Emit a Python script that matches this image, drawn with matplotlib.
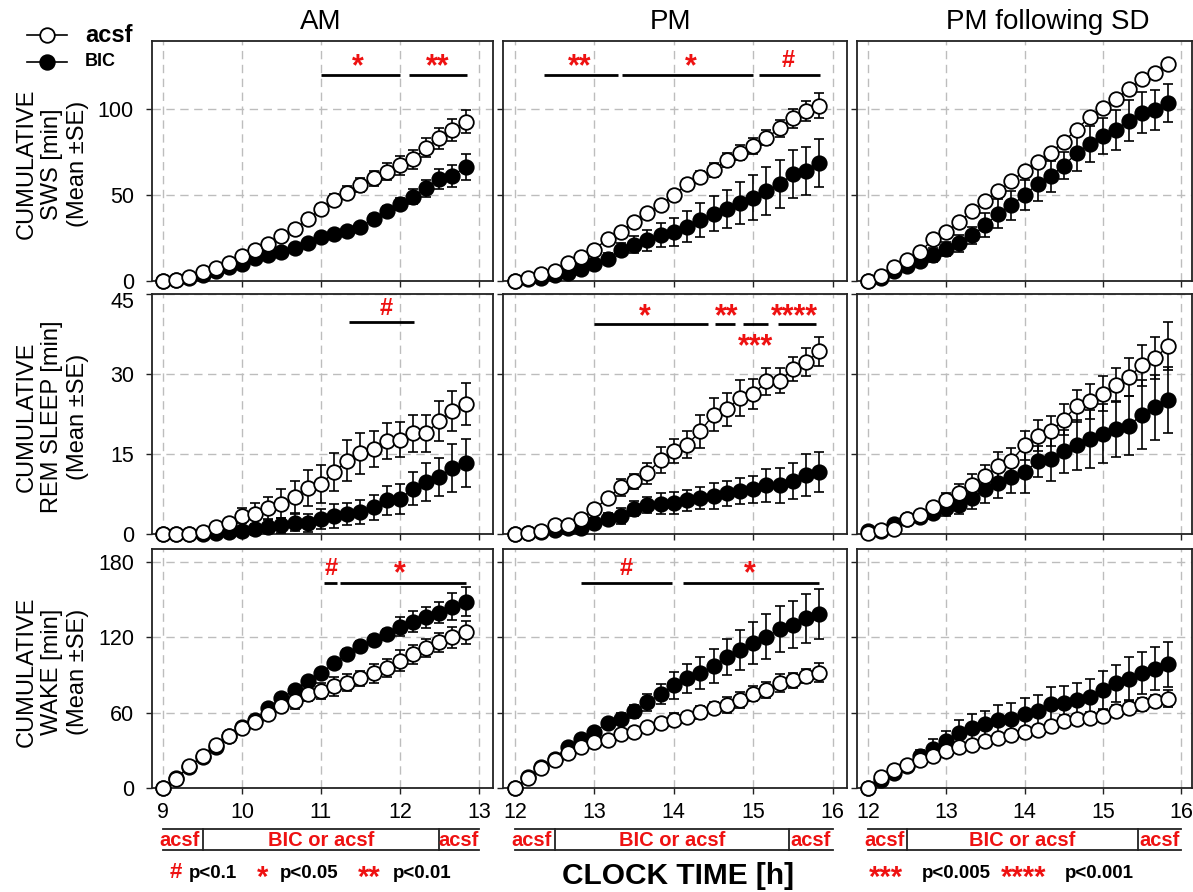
import matplotlib
matplotlib.use('Agg')
import matplotlib.pyplot as plt
import matplotlib.transforms as mtransforms
from matplotlib.lines import Line2D

plt.rcParams['font.family'] = ['Liberation Sans', 'DejaVu Sans']

# ---------------- data ----------------
bin_minutes = [0, 10, 20, 30, 40, 50, 60, 70, 80, 90, 100, 110,
               120, 130, 140, 150, 160, 170, 180, 190, 200, 210, 220, 230]
start_hours = [9, 12, 12]          # AM, PM, PM following SD
col_titles = ["AM", "PM", "PM following SD"]
row_labels = ["CUMULATIVE\nSWS [min]\n(Mean \u00b1SE)",
              "CUMULATIVE\nREM SLEEP [min]\n(Mean \u00b1SE)",
              "CUMULATIVE\nWAKE [min]\n(Mean \u00b1SE)"]

# SWS
sws_am_acsf = [0, 0.8, 2.3, 5.2, 7.6, 10.7, 14.4, 18.3, 21.6, 26, 30, 36, 41.7, 47, 51.3, 56, 59.6, 63.5, 67.4, 70.7, 77.5, 83, 87.8, 92.6]
sws_am_acsf_se = [0, 0.3, 0.5, 0.8, 1, 1.2, 1.5, 2, 2.3, 2.6, 3, 3, 3.2, 3.5, 3.8, 4, 4.5, 5, 5.5, 5.5, 5.5, 6, 6.5, 6.6]
sws_am_bic = [0, 0.5, 1.5, 3.5, 6, 8.2, 10, 13.4, 15.3, 17, 19.4, 22.3, 25.6, 27.6, 29, 31.5, 36, 40.6, 44.5, 49, 53.8, 59.2, 61.2, 66.4]
sws_am_bic_se = [0, 0.3, 0.5, 0.8, 1, 1.2, 1.5, 1.8, 2, 2, 2, 2, 2, 2, 2, 2.5, 3, 3, 3.5, 4.5, 5, 5.8, 6.5, 7.5]
sws_pm_acsf = [0, 2, 4, 6, 10.7, 14, 18.3, 24.5, 28.7, 34.4, 39.6, 44, 50, 56.3, 60.6, 64.5, 70.3, 74.6, 78.4, 83.3, 88.7, 94.6, 98.8, 102]
sws_pm_acsf_se = [0, 0.5, 0.8, 1, 1.5, 1.5, 2, 2, 2, 2.2, 2.5, 2.5, 2.5, 3, 3.5, 3.8, 4, 4.2, 4.5, 4.5, 5, 5.5, 6, 7.3]
sws_pm_bic = [0, 1, 2, 3.5, 4.7, 7, 10, 13, 18.3, 21, 23.7, 26.6, 28.5, 31.5, 35.3, 39.2, 41.7, 45.4, 48.5, 52.4, 56.3, 62, 64, 68.7]
sws_pm_bic_se = [0, 0.5, 0.8, 1, 1.5, 2, 2.5, 3, 4, 5, 6, 7, 8, 9, 10, 10, 11, 12, 13, 14, 14, 14, 14, 14]
sws_sd_acsf = [0, 3, 8, 12.4, 17, 24.3, 28.5, 34.4, 40.6, 46.4, 52.4, 58, 64, 69, 74.6, 81, 88, 95.5, 100.4, 106, 111.5, 117.3, 121, 126]
sws_sd_acsf_se = [0, 0.5, 0.8, 1, 1, 1, 1, 1, 1, 1, 1, 1, 1, 1, 1, 1, 1, 1, 1, 1, 1, 1, 1, 1]
sws_sd_bic = [0, 2, 5.8, 8.5, 11.5, 15.3, 18.8, 22, 26.6, 32.4, 39.2, 44, 50, 56.3, 61, 67, 74.2, 79.6, 84.3, 87.8, 93.2, 97.9, 99.4, 103.7]
sws_sd_bic_se = [0, 0.5, 1, 1.5, 2, 4, 4, 5, 5, 7, 8.5, 8.5, 8.5, 10, 9, 8, 10.5, 10.5, 10.7, 11.5, 12, 12, 11.5, 11]

# REM
rem_am_acsf = [0, 0, 0, 0.4, 1.4, 2.1, 3.4, 3.75, 4.9, 5.7, 6.9, 8.6, 9.4, 11.6, 13.75, 15.1, 16, 17.4, 17.7, 18.9, 18.9, 21.2, 23.1, 24.4]
rem_am_acsf_se = [0, 0, 0, 0.3, 0.6, 0.8, 1.4, 2, 2, 2.7, 3, 3.4, 3.5, 3.5, 3.8, 3.8, 3.4, 3.4, 3.3, 3.5, 3.5, 3.7, 3.8, 4]
rem_am_bic = [0, 0, 0, 0, 0.2, 0.3, 0.5, 0.9, 1.4, 1.6, 2.1, 2.1, 2.8, 3.4, 3.75, 4.1, 5.0, 6.3, 6.6, 8.5, 9.7, 10.7, 12.4, 13.3]
rem_am_bic_se = [0, 0, 0, 0.1, 0.3, 0.5, 0.7, 1, 1.2, 1.4, 1.6, 1.7, 1.9, 2.2, 2, 2.2, 2.4, 2.7, 2.8, 3.1, 3.6, 3.5, 4.5, 4.5]
rem_pm_acsf = [0, 0.2, 0.5, 1.6, 1.6, 2.9, 4.6, 6.75, 8.8, 9.9, 11.4, 13.9, 15.5, 16.75, 19.25, 22.4, 23.4, 25.5, 26.25, 28.6, 28.75, 30.9, 32.25, 34.25]
rem_pm_acsf_se = [0, 0.1, 0.2, 0.4, 0.5, 0.7, 0.8, 1, 1.6, 1.4, 2, 2.4, 2.25, 2.5, 3.1, 3.1, 3.1, 3.3, 2.8, 2.5, 2.4, 2.25, 2.7, 2.75]
rem_pm_bic = [0, 0.1, 0.3, 0.8, 1.1, 1.1, 2.1, 2.9, 3.3, 4.7, 5.5, 5.7, 5.8, 6.3, 6.75, 7.1, 7.6, 8.1, 8.4, 9.1, 9.1, 10, 11.1, 11.6]
rem_pm_bic_se = [0, 0.1, 0.2, 0.4, 0.5, 0.7, 0.9, 1.1, 1.5, 1.4, 1.5, 2, 2, 2, 2, 2.4, 2.4, 2.4, 2.5, 3.1, 3.3, 3.4, 3.9, 3.8]
rem_sd_acsf = [0.2, 0.7, 1, 2.8, 3.6, 5, 6.4, 7.7, 9.1, 10.8, 12.8, 13.75, 16.6, 18.4, 19.25, 21.4, 24, 24.9, 26.3, 28, 29.4, 31.6, 33, 35.2]
rem_sd_acsf_se = [0.1, 0.3, 0.4, 0.6, 0.8, 1, 1.25, 1.6, 2.1, 2.2, 2.5, 2.4, 2.7, 2.9, 2.8, 2.9, 3, 3.3, 3.3, 3.2, 3.6, 3.9, 4, 4.5]
rem_sd_bic = [0.6, 0.6, 1.9, 2.8, 3.2, 3.9, 4.9, 5.5, 6.75, 8.4, 9.6, 10.6, 11.6, 13.6, 14.1, 15.5, 16.75, 17.8, 18.8, 19.7, 20.3, 22.4, 23.75, 25.1]
rem_sd_bic_se = [0.2, 0.3, 0.5, 0.7, 0.8, 1, 1.5, 1.8, 2, 2.6, 2.8, 3, 3.9, 2.9, 4.2, 4, 4.7, 5.4, 5.5, 5.3, 5.5, 6.4, 6.1, 6.25]

# WAKE
wake_am_acsf = [0, 7.2, 17.2, 25.7, 34.5, 41.6, 47.7, 53, 59, 65, 69, 75, 77.5, 81, 84, 87.5, 91.5, 95.5, 101.3, 106.6, 111.4, 116, 120, 124]
wake_am_acsf_se = [0, 1, 1.5, 2, 2, 2.5, 2.5, 3, 3, 3.5, 5.7, 6, 6.4, 7.7, 7, 6, 7.6, 7.3, 8.4, 7.4, 7, 7.3, 8.6, 9]
wake_am_bic = [0, 7.7, 17, 25, 33, 41.6, 49, 54.4, 63.7, 71.6, 78.2, 85, 91.5, 99.5, 107, 113.3, 118, 122.5, 128.6, 132.6, 136, 139.8, 144.6, 148.5]
wake_am_bic_se = [0, 1, 1.5, 2, 2, 2.5, 2.5, 3, 3, 3, 3, 3, 3.5, 3.5, 4, 4, 4, 4.4, 7.4, 8.4, 8.2, 8.4, 10.6, 11.4]
wake_pm_acsf = [0, 8, 16, 22.5, 27.8, 32.6, 36.6, 38.5, 43, 45, 49, 51.7, 54.4, 56.5, 60.2, 63.7, 66.3, 69.8, 75, 78.2, 83.6, 85.7, 88.9, 92]
wake_pm_acsf_se = [0, 1.5, 2, 2.5, 3, 3, 3, 3, 3, 3, 3.6, 2.5, 5.3, 4.4, 5.3, 5, 6.2, 6.4, 6, 6.4, 7, 6, 5.6, 7.7]
wake_pm_bic = [0, 8.5, 16.4, 23.3, 33, 39, 45, 51.7, 55.2, 61, 68.2, 74.8, 81.7, 87.5, 91.5, 97.3, 104.2, 110, 115.4, 120.7, 126.5, 130, 135.3, 138.7]
wake_pm_bic_se = [0, 1.5, 2, 2.5, 3, 3, 3, 3.5, 4.4, 5.3, 7, 8.2, 10.6, 11.7, 12.6, 13.3, 14.3, 16, 16.8, 18, 18.4, 18.8, 19.6, 19.7]
wake_sd_acsf = [0, 8.8, 14.7, 18.7, 22.7, 25.9, 29.3, 32.8, 34.1, 37.3, 39.5, 41.9, 44.5, 46.1, 49.3, 53.3, 54.7, 56, 57.3, 61.3, 64, 66.7, 69.3, 71.2]
wake_sd_acsf_se = [0, 1, 1.5, 2, 2, 2.5, 2.5, 3, 3, 3.5, 3.5, 4, 4, 4, 4.5, 4.5, 4.5, 4.5, 4.5, 5, 5, 5, 5, 6.7]
wake_sd_bic = [0, 6.7, 12, 17.9, 25.3, 30.7, 37.3, 44, 48, 50.7, 53.9, 55.2, 58.7, 61.3, 66.7, 68, 70.1, 72.8, 78.1, 83.5, 87.2, 91.5, 95.2, 98.7]
wake_sd_bic_se = [0, 1.5, 2, 2.5, 5, 8, 8, 10, 10.8, 11, 12.4, 12.8, 13, 12.7, 13.7, 13, 13.6, 13.9, 15.3, 14.7, 16.9, 16.7, 17.2, 17.9]

series = [
    [(sws_am_acsf, sws_am_acsf_se, sws_am_bic, sws_am_bic_se),
     (sws_pm_acsf, sws_pm_acsf_se, sws_pm_bic, sws_pm_bic_se),
     (sws_sd_acsf, sws_sd_acsf_se, sws_sd_bic, sws_sd_bic_se)],
    [(rem_am_acsf, rem_am_acsf_se, rem_am_bic, rem_am_bic_se),
     (rem_pm_acsf, rem_pm_acsf_se, rem_pm_bic, rem_pm_bic_se),
     (rem_sd_acsf, rem_sd_acsf_se, rem_sd_bic, rem_sd_bic_se)],
    [(wake_am_acsf, wake_am_acsf_se, wake_am_bic, wake_am_bic_se),
     (wake_pm_acsf, wake_pm_acsf_se, wake_pm_bic, wake_pm_bic_se),
     (wake_sd_acsf, wake_sd_acsf_se, wake_sd_bic, wake_sd_bic_se)],
]

y_ticks = [[0, 50, 100], [0, 15, 30, 45], [0, 60, 120, 180]]
y_lims = [(0, 139.5), (0, 45), (0, 190.5)]
x_ticks = [[9, 10, 11, 12, 13], [12, 13, 14, 15, 16], [12, 13, 14, 15, 16]]
x_lims = [(8.86, 13.18), (11.85, 16.18), (11.86, 16.14)]

# significance bars: (row, col, x_start, x_end, y_bar)
sig_bars = [
    (0, 0, 11.0, 12.0, 120), (0, 0, 12.12, 12.85, 120),
    (0, 1, 12.36, 13.30, 120), (0, 1, 13.35, 15.0, 120), (0, 1, 15.07, 15.84, 120),
    (1, 0, 11.35, 12.18, 39.7),
    (1, 1, 12.99, 14.43, 39.4), (1, 1, 14.52, 14.77, 39.4), (1, 1, 14.87, 15.19, 39.4), (1, 1, 15.31, 15.79, 39.4),
    (2, 0, 11.04, 11.21, 163.7), (2, 0, 11.24, 12.84, 163.7),
    (2, 1, 12.83, 13.98, 163.7), (2, 1, 14.12, 15.83, 163.7),
]
# significance labels: (row, col, x, y, text)
sig_labels = [
    (0, 0, 11.47, 128, "*"), (0, 0, 12.48, 128, "**"),
    (0, 1, 12.82, 128, "**"), (0, 1, 14.22, 128, "*"), (0, 1, 15.44, 128, "#"),
    (1, 0, 11.83, 42.2, "#"),
    (1, 1, 13.64, 41.7, "*"), (1, 1, 14.66, 41.7, "**"), (1, 1, 15.03, 36.1, "***"), (1, 1, 15.52, 41.7, "****"),
    (2, 0, 11.13, 175, "#"), (2, 0, 12.0, 175, "*"),
    (2, 1, 13.4, 175, "#"), (2, 1, 14.96, 175, "*"),
]
# treatment periods under each column: (start, switch1, switch2, end)
treat_periods = [(9, 9.5, 12.5, 13), (12, 12.5, 15.45, 16), (12, 12.5, 15.45, 16)]
treat_texts = ["acsf", "BIC or acsf", "acsf"]

# ---------------- layout ----------------
W, H = 1193, 892
fig = plt.figure(figsize=(W / 100, H / 100), dpi=100)


def fx(px):
    return px / W


def fy(py):
    return 1 - py / H


col_lr = [(152, 493), (503, 847), (857, 1192)]
row_tb = [(41, 281), (294, 534), (549, 788)]
RED = '#ee1111'
TICKFS = 15.5

axes = [[None] * 3 for _ in range(3)]
for r in range(3):
    for c in range(3):
        l, rr = col_lr[c]
        t, b = row_tb[r]
        ax = fig.add_axes([fx(l), fy(b), (rr - l) / W, (b - t) / H])
        axes[r][c] = ax
        x = [start_hours[c] + m / 60 for m in bin_minutes]
        acsf, acsf_se, bic, bic_se = series[r][c]
        ax.errorbar(x, bic, yerr=bic_se, fmt='none', ecolor='black', elinewidth=1.2,
                    capsize=3.5, capthick=1.2, zorder=3, clip_on=False)
        ax.plot(x, bic, '-o', color='black', lw=1, ms=10.5, mfc='black', mec='black',
                mew=1.2, zorder=4, clip_on=False)
        ax.errorbar(x, acsf, yerr=acsf_se, fmt='none', ecolor='black', elinewidth=1.2,
                    capsize=3.5, capthick=1.2, zorder=5, clip_on=False)
        ax.plot(x, acsf, '-o', color='black', lw=1, ms=10.5, mfc='white', mec='black',
                mew=1.3, zorder=6, clip_on=False)
        ax.set_xlim(*x_lims[c])
        ax.set_ylim(*y_lims[r])
        ax.set_xticks(x_ticks[c])
        ylabels = [str(v) for v in y_ticks[r]]
        if r == 1:
            ylabels[-1] = ''     # top label drawn lower, as in the original
        ax.set_yticks(y_ticks[r], labels=ylabels)
        ax.grid(True, color='#bdbdbd', lw=1, linestyle=(0, (6, 4)))
        ax.set_axisbelow(True)
        for s in ax.spines.values():
            s.set_linewidth(1.3)
            s.set_color('#222222')
        ax.tick_params(direction='out', length=4, width=1, labelsize=TICKFS, color='#222222')
        ax.tick_params(axis='y', pad=9)
        ax.tick_params(axis='x', pad=6)
        if r < 2:
            ax.tick_params(labelbottom=False)
        if c > 0:
            ax.tick_params(labelleft=False)

# the shifted "45" label of the REM row
fig.text(fx(134), fy(303), str(y_ticks[1][-1]), ha='right', va='center', fontsize=TICKFS)

# row labels
for r in range(3):
    t, b = row_tb[r]
    fig.text(fx(52), fy((t + b) / 2 + 3), row_labels[r], rotation=90, ha='center', va='center',
             fontsize=17, linespacing=1.22)

# column titles
title_x = [321, 670, 1048]
for c in range(3):
    fig.text(fx(title_x[c]), fy(22), col_titles[c], ha='center', va='center', fontsize=20)

# significance bars and labels
star_shift = mtransforms.ScaledTranslation(0, -6 / 100, fig.dpi_scale_trans)
for (r, c, x0, x1, yb) in sig_bars:
    axes[r][c].plot([x0, x1], [yb, yb], color='black', lw=2, zorder=7, solid_capstyle='butt')
for (r, c, xl, yl, txt) in sig_labels:
    is_star = txt.startswith('*')
    a = axes[r][c]
    a.text(xl, yl, txt, color=RED, fontweight='bold', ha='center', va='center',
           fontsize=22 if is_star else 17, zorder=8,
           transform=(a.transData + star_shift) if is_star else a.transData)

# treatment bars
for c in range(3):
    ax = axes[2][c]
    tr = ax.get_xaxis_transform()
    s0, s1, s2, s3 = treat_periods[c]
    y_top, y_bot = (788 - 829) / 239, (788 - 850) / 239
    y_mid = (788 - 840) / 239
    for yy in (y_top, y_bot):
        ax.plot([s0, s3], [yy, yy], color='#222222', lw=1.3, transform=tr, clip_on=False)
    for sx in (s1, s2):
        ax.plot([sx, sx], [y_top, y_bot], color='#222222', lw=1.3, transform=tr, clip_on=False)
    mids = [(s0 + s1) / 2 - 0.04, (s1 + s2) / 2, (s2 + s3) / 2]
    for mx, tx in zip(mids, treat_texts):
        ax.text(mx, y_mid, tx, color=RED, fontweight='bold', fontsize=14.5, ha='center',
                va='center', transform=tr, clip_on=False)

# legend (top-left)
for yy, face, lab, fs in [(35, 'white', 'acsf', 17), (62, 'black', 'BIC', 13)]:
    fig.add_artist(Line2D([fx(27), fx(67)], [fy(yy), fy(yy)], color='black', lw=1.2))
    fig.add_artist(Line2D([fx(47)], [fy(yy)], marker='o', ms=10.5, mfc=face, mec='black',
                          mew=1.3, lw=0))
    fig.text(fx(85), fy(yy), lab, fontsize=fs, fontweight='bold', ha='left', va='center')

# bottom keys
KEYFS = 13.5
fig.text(fx(170), fy(873), "#", color=RED, fontsize=16, fontweight='bold', ha='left', va='center')
fig.text(fx(189), fy(873), "p<0.1", fontsize=KEYFS, fontweight='bold', ha='left', va='center')
fig.text(fx(257), fy(878), "*", color=RED, fontsize=21, fontweight='bold', ha='left', va='center')
fig.text(fx(280), fy(873), "p<0.05", fontsize=KEYFS, fontweight='bold', ha='left', va='center')
fig.text(fx(358), fy(878), "**", color=RED, fontsize=21, fontweight='bold', ha='left', va='center')
fig.text(fx(393), fy(873), "p<0.01", fontsize=KEYFS, fontweight='bold', ha='left', va='center')

fig.text(fx(678), fy(876), "CLOCK TIME [h]", fontsize=21.5, fontweight='bold', ha='center', va='center')

fig.text(fx(869), fy(878), "***", color=RED, fontsize=21, fontweight='bold', ha='left', va='center')
fig.text(fx(922), fy(873), "p<0.005", fontsize=KEYFS, fontweight='bold', ha='left', va='center')
fig.text(fx(1001), fy(878), "****", color=RED, fontsize=21, fontweight='bold', ha='left', va='center')
fig.text(fx(1065), fy(873), "p<0.001", fontsize=KEYFS, fontweight='bold', ha='left', va='center')

fig.savefig('out.png', dpi=100)
